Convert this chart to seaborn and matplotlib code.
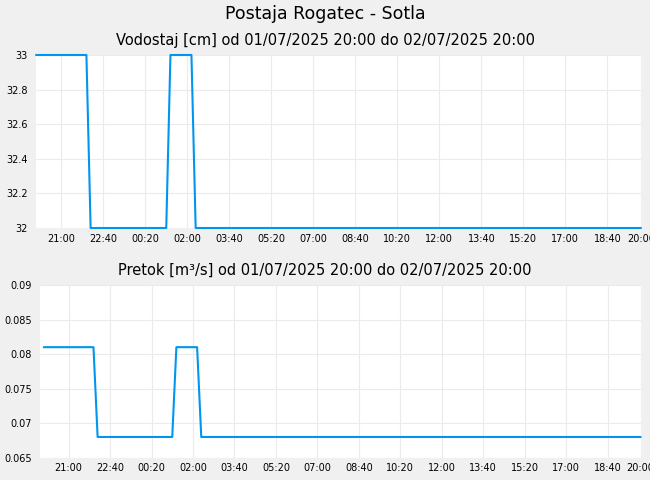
import pandas as pd
import numpy as np
import matplotlib
matplotlib.use("Agg")
import matplotlib.pyplot as plt
import matplotlib.dates as mdates
from matplotlib.ticker import FixedLocator, FuncFormatter
import seaborn as sns

# ---- data (change points) ----
level_times = ["2025-07-01 20:00", "2025-07-01 22:00", "2025-07-01 22:10",
               "2025-07-02 01:10", "2025-07-02 01:20", "2025-07-02 02:10",
               "2025-07-02 02:20", "2025-07-02 20:00"]
level_values = [33, 33, 32, 32, 33, 33, 32, 32]

flow_times = ["2025-07-01 20:00", "2025-07-01 22:00", "2025-07-01 22:10",
              "2025-07-02 01:10", "2025-07-02 01:20", "2025-07-02 02:10",
              "2025-07-02 02:20", "2025-07-02 20:00"]
flow_values = [0.081, 0.081, 0.068, 0.068, 0.081, 0.081, 0.068, 0.068]

x_tick_times = ["2025-07-01 21:00", "2025-07-01 22:40", "2025-07-02 00:20",
                "2025-07-02 02:00", "2025-07-02 03:40", "2025-07-02 05:20",
                "2025-07-02 07:00", "2025-07-02 08:40", "2025-07-02 10:20",
                "2025-07-02 12:00", "2025-07-02 13:40", "2025-07-02 15:20",
                "2025-07-02 17:00", "2025-07-02 18:40", "2025-07-02 20:00"]
level_yticks = [32, 32.2, 32.4, 32.6, 32.8, 33]
flow_yticks = [0.065, 0.07, 0.075, 0.08, 0.085, 0.09]

main_title = "Postaja Rogatec - Sotla"
level_title = "Vodostaj [cm] od 01/07/2025 20:00 do 02/07/2025 20:00"
flow_title = "Pretok [m³/s] od 01/07/2025 20:00 do 02/07/2025 20:00"

df_level = pd.DataFrame({"t": pd.to_datetime(level_times), "v": level_values})
df_flow = pd.DataFrame({"t": pd.to_datetime(flow_times), "v": flow_values})

sns.set_theme(style="white")
plt.rcParams["font.family"] = ["DejaVu Sans"]
plt.rcParams["text.color"] = "black"

BG = "#f0f0f0"
GRID = "#ebebeb"
LINE = "#0096ef"

fig = plt.figure(figsize=(6.5, 4.8), dpi=100, facecolor=BG)
W, H = 650, 480

def px_axes(l, t, r, b):
    return fig.add_axes([l / W, 1 - b / H, (r - l) / W, (b - t) / H])

ax1 = px_axes(36, 55, 641, 228)
ax2 = px_axes(40, 285, 641.3, 457.7)

xticks = mdates.date2num(pd.to_datetime(x_tick_times))

def style(ax, df, yticks, ylim, xlim):
    ax.set_facecolor("white")
    sns.lineplot(data=df, x="t", y="v", ax=ax, color=LINE, linewidth=1.5)
    for ln in ax.lines:
        ln.set_clip_on(False)
    ax.set_xlim(xlim)
    ax.set_ylim(ylim)
    ax.xaxis.set_major_locator(FixedLocator(xticks))
    ax.xaxis.set_major_formatter(mdates.DateFormatter("%H:%M"))
    ax.yaxis.set_major_locator(FixedLocator(yticks))
    ax.yaxis.set_major_formatter(FuncFormatter(lambda v, p: f"{v:g}"))
    ax.grid(True, color=GRID, linewidth=0.8)
    ax.set_axisbelow(True)
    for s in ax.spines.values():
        s.set_visible(False)
    ax.tick_params(axis="both", length=0, labelsize=7, colors="black")
    ax.tick_params(axis="x", pad=4)
    ax.tick_params(axis="y", pad=6)
    ax.set_xlabel("")
    ax.set_ylabel("")

t0 = mdates.date2num(pd.Timestamp("2025-07-01 20:00"))
t1 = mdates.date2num(pd.Timestamp("2025-07-02 20:00"))
style(ax1, df_level, level_yticks, (32, 33), (t0, t1))
style(ax2, df_flow, flow_yticks, (0.065, 0.09),
      (t0 - 9 / 1440, t1 + 1.5 / 1440))

fig.text(0.5, 1 - 14 / H, main_title, ha="center", va="center",
         fontsize=12.5, color="black")
fig.text(0.5, 1 - 40 / H, level_title, ha="center", va="center",
         fontsize=10.5, color="black")
fig.text(0.5, 1 - 270 / H, flow_title, ha="center", va="center",
         fontsize=10.5, color="black")

fig.savefig("out.png", dpi=100, facecolor=BG)
